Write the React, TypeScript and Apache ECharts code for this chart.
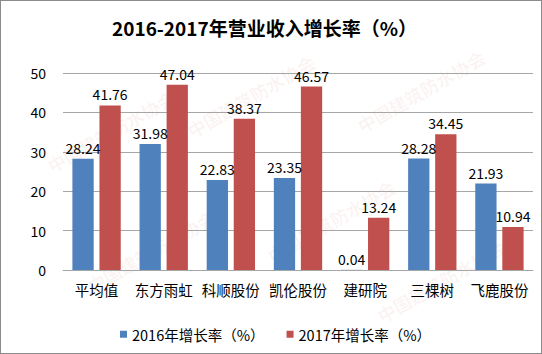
import React, { useEffect, useRef } from "react";
import * as echarts from "echarts";

const categories = ["平均值", "东方雨虹", "科顺股份", "凯伦股份", "建研院", "三棵树", "飞鹿股份"];
const growth2016 = [28.24, 31.98, 22.83, 23.35, 0.04, 28.28, 21.93];
const growth2017 = [41.76, 47.04, 38.37, 46.57, 13.24, 34.45, 10.94];
const seriesNames = ["2016年增长率（%）", "2017年增长率（%）"];
const titleText = "2016-2017年营业收入增长率（%）";
const watermark = "中国建筑防水协会";

const FONT = "'Noto Sans CJK SC', 'Noto Sans', sans-serif";

export default function App() {
  const ref = useRef<HTMLDivElement>(null);
  useEffect(() => {
    if (!ref.current) return;
    const chart = echarts.init(ref.current, undefined, { renderer: "svg" });
    const marks: any[] = [];
    const spots = [
      [110, 130], [250, 95], [420, 90], [150, 250], [330, 220], [440, 280],
    ];
    spots.forEach(([x, y]) => {
      marks.push({
        type: "text",
        x,
        y,
        rotation: Math.PI / 6,
        silent: true,
        z: -1,
        style: {
          text: watermark,
          fontSize: 18,
          fontWeight: "bold",
          fontFamily: FONT,
          fill: "rgba(200,60,60,0.06)",
          align: "center",
          verticalAlign: "middle",
        },
      });
    });
    chart.setOption({
      animation: false,
      backgroundColor: "#ffffff",
      title: {
        text: titleText,
        left: 106,
        top: 12,
        textStyle: { fontSize: 19, fontWeight: "bold", color: "#000", fontFamily: FONT },
      },
      graphic: marks,
      legend: {
        left: 114,
        top: 321,
        itemWidth: 7,
        itemHeight: 7,
        itemGap: 22,
        icon: "rect",
        textStyle: { fontSize: 14.5, color: "#000", fontFamily: FONT },
        data: seriesNames,
      },
      grid: { left: 62, right: 8, top: 72, bottom: 83 },
      xAxis: {
        type: "category",
        data: categories,
        axisLine: { lineStyle: { color: "#A6A6A6" } },
        axisTick: { show: false },
        axisLabel: { interval: 0, hideOverlap: false, fontSize: 14.5, color: "#000", margin: 12, fontFamily: FONT },
      },
      yAxis: {
        type: "value",
        min: 0,
        max: 50,
        interval: 10,
        axisLine: { show: false },
        axisTick: { show: false },
        splitLine: { lineStyle: { color: "#A6A6A6" } },
        axisLabel: { fontSize: 14, color: "#000", margin: 17, fontFamily: FONT },
      },
      series: [
        {
          name: seriesNames[0],
          type: "bar",
          data: growth2016,
          barGap: "27%",
          barCategoryGap: "28%",
          itemStyle: { color: "#4F81BD" },
          label: { show: true, position: "top", fontSize: 14, color: "#000", fontFamily: FONT, distance: 4 },
        },
        {
          name: seriesNames[1],
          type: "bar",
          data: growth2017,
          barGap: "27%",
          barCategoryGap: "28%",
          itemStyle: { color: "#C0504D" },
          label: { show: true, position: "top", fontSize: 14, color: "#000", fontFamily: FONT, distance: 4 },
        },
      ],
    });
    return () => chart.dispose();
  }, []);
  return (
    <div
      style={{
        position: "fixed",
        left: 0,
        top: 0,
        width: 542,
        height: 354,
        boxSizing: "border-box",
        border: "1px solid #8c8c8c",
        background: "#fff",
      }}
    >
      <div ref={ref} style={{ width: 540, height: 352 }} />
    </div>
  );
}
